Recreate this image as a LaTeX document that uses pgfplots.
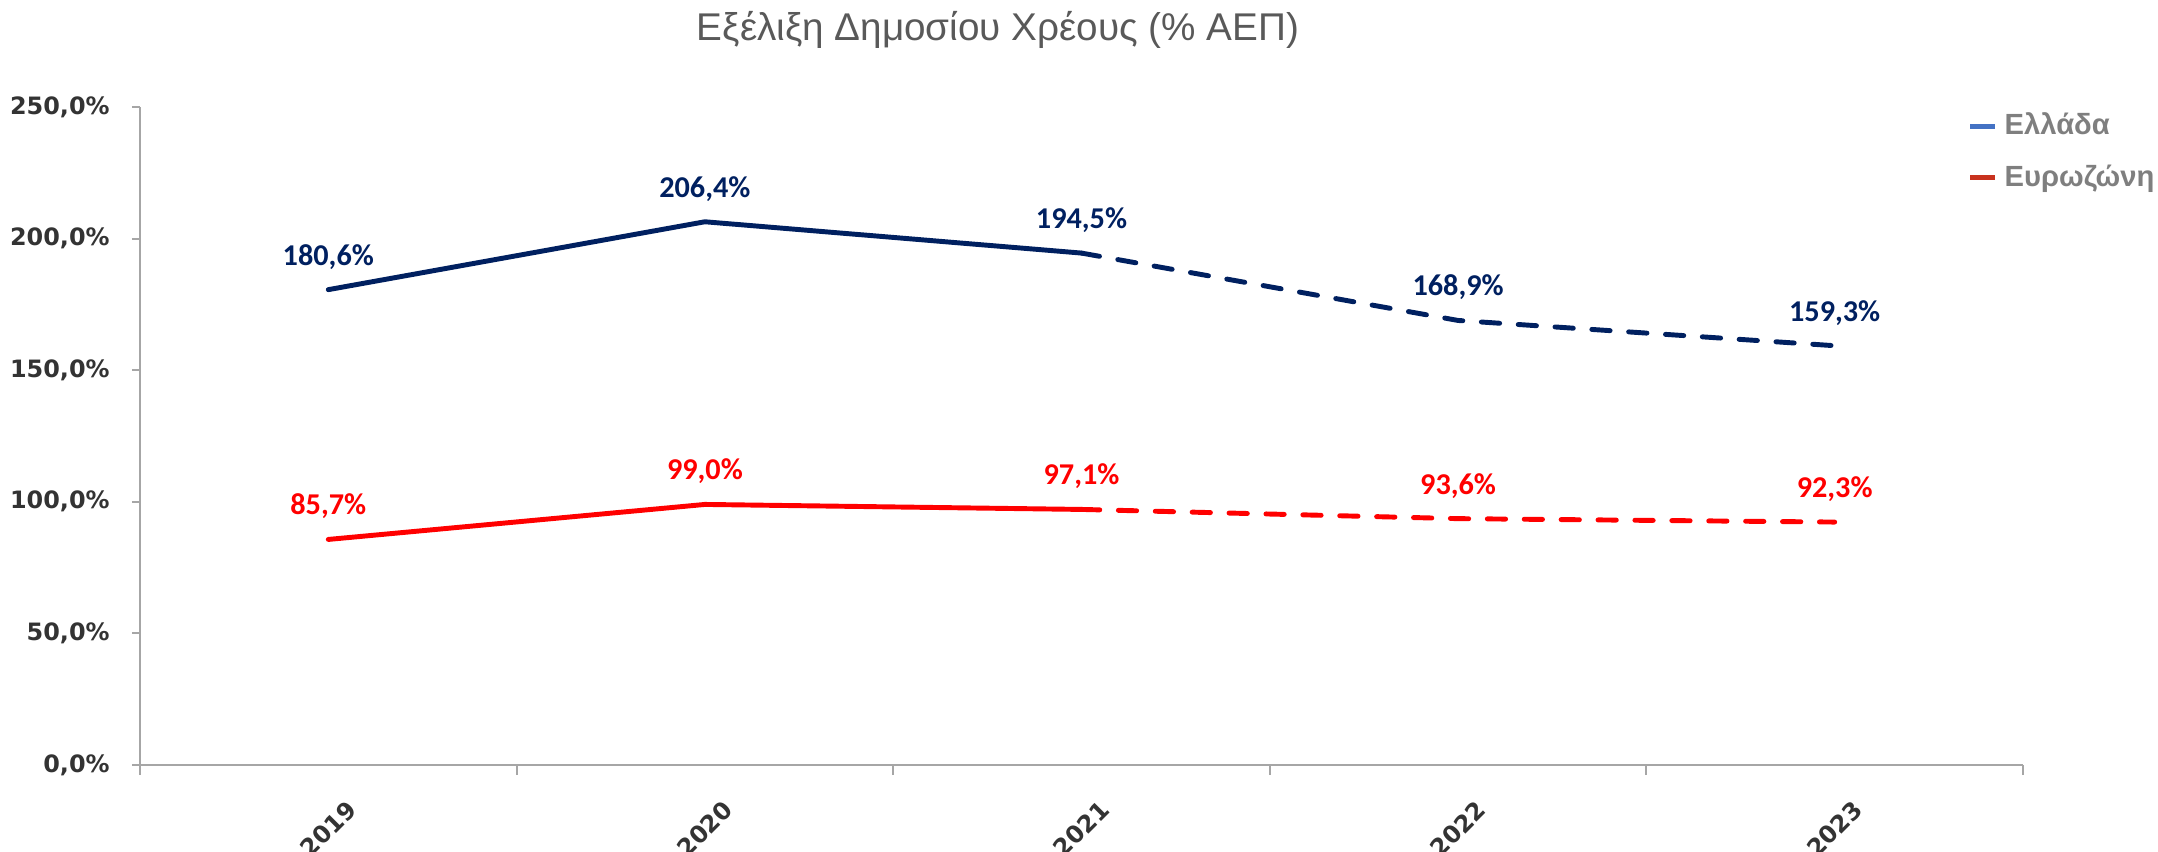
\documentclass[border=0pt]{standalone}
\usepackage{fontspec}
\setmainfont{Liberation Sans}
\newfontfamily\labfont{Carlito}
\newfontfamily\tickfont{DejaVu Sans}
\usepackage{pgfplots}
\pgfplotsset{compat=1.18}

\definecolor{navy}{HTML}{002060}
\definecolor{eured}{HTML}{FF0000}
\definecolor{legblue}{HTML}{4472C4}
\definecolor{legred}{HTML}{C8321E}
\definecolor{axgray}{HTML}{A6A6A6}
\definecolor{ticktxt}{HTML}{333333}
\definecolor{titlegray}{HTML}{595959}
\definecolor{leggray}{HTML}{7F7F7F}

\begin{document}
\begin{tikzpicture}
\useasboundingbox (0,0) rectangle (21.58cm,8.51cm);
\node[font=\fontsize{11}{13}\selectfont, text=titlegray] at (9.98cm,8.21cm) {Εξέλιξη Δημοσίου Χρέους (\% ΑΕΠ)};
\begin{axis}[
    at={(1.40cm,0.86cm)}, anchor=south west,
    width=18.83cm, height=6.58cm, scale only axis,
    xmin=-0.5, xmax=4.5, ymin=0, ymax=250,
    axis x line=bottom, axis y line=left,
    axis line style={axgray, line width=0.6pt, -},
    xtick={0,1,2,3,4},
    xticklabels={2019,2020,2021,2022,2023},
    minor xtick={-0.5,0.5,1.5,2.5,3.5,4.5},
    ytick={0,50,100,150,200,250},
    yticklabels={{0,0\%},{50,0\%},{100,0\%},{150,0\%},{200,0\%},{250,0\%}},
    tick align=outside,
    major tick length=0.08cm,
    minor tick length=0.1cm,
    x tick style={draw=none},
    minor x tick style={draw=axgray, line width=0.6pt},
    y tick style={draw=axgray, line width=0.6pt},
    tick label style={font=\tickfont\bfseries\fontsize{6.8}{8}\selectfont, text=ticktxt},
    yticklabel style={xshift=-0.1cm},
    xticklabel style={rotate=45, anchor=north east, yshift=-0.18cm, xshift=0.06cm},
    legend style={at={(axis description cs:0.9703,1.003)}, anchor=north west,
        draw=none, fill=none, font=\bfseries\fontsize{8.3}{10}\selectfont,
        text=leggray, row sep=3pt, inner sep=0pt},
    legend cell align=left,
    legend image code/.code={\draw[line width=1.4pt] (0cm,0cm) -- (0.25cm,0cm);},
    clip=false,
]
% Ελλάδα
\addplot[navy, line width=1.4pt, line cap=round, forget plot] coordinates {(0,180.6) (1,206.4) (2,194.5)};
\addplot[navy, line width=1.4pt, line cap=round, dash pattern=on 5.2pt off 5.3pt, forget plot] coordinates {(2,194.5) (3,168.9) (4,159.3)};
\addplot[draw=none, forget plot, point meta=y,
    nodes near coords={\pgfmathprintnumber[fixed,fixed zerofill,precision=1,use comma,assume math mode=true]{\pgfplotspointmeta}\%},
    every node near coord/.append style={anchor=center, yshift=0.33cm, text=navy, font=\labfont\bfseries\fontsize{8.6}{10}\selectfont}]
    coordinates {(0,180.6) (1,206.4) (2,194.5) (3,168.9) (4,159.3)};
% Ευρωζώνη
\addplot[eured, line width=1.4pt, line cap=round, forget plot] coordinates {(0,85.7) (1,99.0) (2,97.1)};
\addplot[eured, line width=1.4pt, line cap=round, dash pattern=on 5.2pt off 5.3pt, forget plot] coordinates {(2,97.1) (3,93.6) (4,92.3)};
\addplot[draw=none, forget plot, point meta=y,
    nodes near coords={\pgfmathprintnumber[fixed,fixed zerofill,precision=1,use comma,assume math mode=true]{\pgfplotspointmeta}\%},
    every node near coord/.append style={anchor=center, yshift=0.33cm, text=eured, font=\labfont\bfseries\fontsize{8.6}{10}\selectfont}]
    coordinates {(0,85.7) (1,99.0) (2,97.1) (3,93.6) (4,92.3)};
\addlegendimage{legblue}
\addlegendentry{Ελλάδα}
\addlegendimage{legred}
\addlegendentry{Ευρωζώνη}
\end{axis}
\end{tikzpicture}
\end{document}
